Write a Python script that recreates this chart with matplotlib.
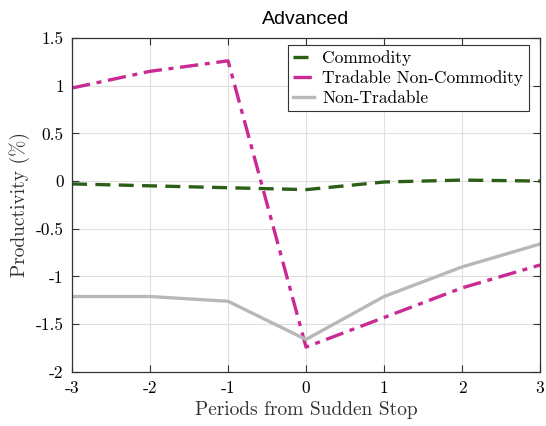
import matplotlib
matplotlib.use("Agg")
import matplotlib.pyplot as plt

periods = [-3, -2, -1, 0, 1, 2, 3]
commodity = [-0.03, -0.05, -0.07, -0.09, -0.01, 0.01, 0.0]
tradable_noncomm = [0.975, 1.15, 1.26, -1.74, -1.43, -1.12, -0.88]
non_tradable = [-1.21, -1.21, -1.26, -1.66, -1.21, -0.90, -0.66]

xticks = [-3, -2, -1, 0, 1, 2, 3]
xticklabels = ["-3", "-2", "-1", "0", "1", "2", "3"]
yticks = [-2, -1.5, -1, -0.5, 0, 0.5, 1, 1.5]
yticklabels = ["-2", "-1.5", "-1", "-0.5", "0", "0.5", "1", "1.5"]

serif = ["cmr10", "DejaVu Serif"]

fig = plt.figure(figsize=(5.46, 4.26), dpi=100)
ax = fig.add_axes([0.132, 0.127, 0.857, 0.784])

ax.plot(periods, commodity, color="#2b5e16", lw=2.4, ls=(0, (4.5, 2.5)), label="Commodity")
ax.plot(periods, tradable_noncomm, color="#c92a93", lw=2.4, ls=(0, (5.5, 2, 1.5, 2)), label="Tradable Non-Commodity")
ax.plot(periods, non_tradable, color="#b8b8b8", lw=2.4, ls="-", label="Non-Tradable")

ax.set_xlim(-3, 3)
ax.set_ylim(-2, 1.5)
ax.set_xticks(xticks)
ax.set_xticklabels(xticklabels, fontfamily=serif, fontsize=12.5)
ax.set_yticks(yticks)
ax.set_yticklabels(yticklabels, fontfamily=serif, fontsize=12.5)
ax.tick_params(direction="in", top=True, right=True, length=5, width=0.8, color="#333333", pad=6)
ax.grid(True, color="#e0e0e0", lw=0.8)
ax.set_axisbelow(True)
for s in ax.spines.values():
    s.set_color("#333333")
    s.set_linewidth(0.9)

ax.set_xlabel("Periods from Sudden Stop", fontfamily=serif, fontsize=14, color="#333333")
ax.set_ylabel("Productivity (%)", fontfamily=serif, fontsize=14, color="#333333")
ax.set_title("Advanced", fontfamily="Liberation Sans", fontsize=14, pad=10)

leg = ax.legend(loc="upper right", bbox_to_anchor=(0.983, 0.99), prop={"family": serif, "size": 12.5},
                handlelength=1.2, handletextpad=0.5, borderpad=0.3, labelspacing=0.25,
                borderaxespad=0.2, fancybox=False, framealpha=1, edgecolor="#333333")
leg.get_frame().set_linewidth(0.8)

fig.savefig("out.png", dpi=100)
